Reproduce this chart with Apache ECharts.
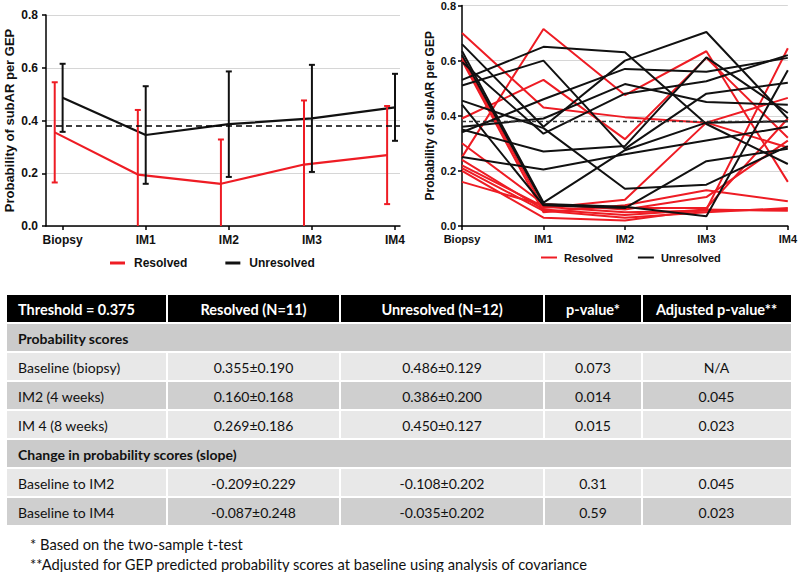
<!DOCTYPE html>
<html><head><meta charset="utf-8">
<script src="https://cdn.jsdelivr.net/npm/echarts@6/dist/echarts.min.js"></script>
<style>html,body{margin:0;padding:0;background:#fff}#c{width:800px;height:572px}</style>
</head><body><div id="c"></div>
<script>
// ---------------- data ----------------
const categories = ['Biopsy', 'IM1', 'IM2', 'IM3', 'IM4'];
const threshold = 0.375;
const yTicks = [0, 0.2, 0.4, 0.6, 0.8];

// left panel: group mean and SD
const resolvedMean = [0.355, 0.195, 0.160, 0.233, 0.269];
const resolvedSD = [0.190, 0.245, 0.168, 0.243, 0.186];
const unresolvedMean = [0.486, 0.345, 0.386, 0.408, 0.450];
const unresolvedSD = [0.129, 0.185, 0.200, 0.203, 0.127];

// right panel: individual patients
const resolvedPatients = [
  [0.25, 0.715, 0.475, 0.634, 0.16],
  [0.39, 0.53, 0.315, 0.61, 0.32],
  [0.70, 0.43, 0.395, 0.375, 0.465],
  [0.61, 0.065, 0.095, 0.375, 0.285],
  [0.60, 0.05, 0.075, 0.13, 0.09],
  [0.30, 0.08, 0.06, 0.105, 0.31],
  [0.24, 0.06, 0.04, 0.06, 0.645],
  [0.22, 0.07, 0.05, 0.055, 0.06],
  [0.21, 0.055, 0.03, 0.05, 0.065],
  [0.20, 0.03, 0.02, 0.06, 0.055],
  [0.16, 0.075, 0.065, 0.065, 0.39]
];
const unresolvedPatients = [
  [0.53, 0.65, 0.63, 0.37, 0.225],
  [0.51, 0.60, 0.28, 0.48, 0.52],
  [0.34, 0.46, 0.57, 0.56, 0.61],
  [0.36, 0.39, 0.515, 0.45, 0.44],
  [0.66, 0.36, 0.60, 0.704, 0.39],
  [0.595, 0.335, 0.48, 0.525, 0.62],
  [0.455, 0.355, 0.135, 0.15, 0.29],
  [0.35, 0.27, 0.29, 0.612, 0.41],
  [0.25, 0.205, 0.26, 0.31, 0.36],
  [0.635, 0.085, 0.275, 0.375, 0.38],
  [0.62, 0.08, 0.07, 0.035, 0.565],
  [0.44, 0.075, 0.065, 0.235, 0.28]
];

// table
const tableHeader = ['Threshold = 0.375', 'Resolved (N=11)', 'Unresolved (N=12)', 'p-value*', 'Adjusted p-value**'];
const section1Title = 'Probability scores';
const section1Rows = [
  ['Baseline (biopsy)', '0.355±0.190', '0.486±0.129', '0.073', 'N/A'],
  ['IM2 (4 weeks)', '0.160±0.168', '0.386±0.200', '0.014', '0.045'],
  ['IM 4 (8 weeks)', '0.269±0.186', '0.450±0.127', '0.015', '0.023']
];
const section2Title = 'Change in probability scores (slope)';
const section2Rows = [
  ['Baseline to IM2', '-0.209±0.229', '-0.108±0.202', '0.31', '0.045'],
  ['Baseline to IM4', '-0.087±0.248', '-0.035±0.202', '0.59', '0.023']
];
const footnotes = [
  '* Based on the two-sample t-test',
  '**Adjusted for GEP predicted probability scores at baseline using analysis of covariance'
];

// ---------------- styles ----------------
const FONT = '"Liberation Sans", Arial, sans-serif';
const TFONT = 'Lato, "Open Sans", sans-serif';
const RED = '#ee1c24';
const BLACK = '#111111';
const dodge = -0.095;

const chart = echarts.init(document.getElementById('c'), null, { renderer: 'svg' });

function errorBars(name, color, mean, sd, offset) {
  return {
    type: 'custom', name: name, xAxisIndex: 0, yAxisIndex: 0, z: 4,
    data: mean.map((m, i) => [i + offset, m - sd[i], m + sd[i]]),
    renderItem: function (params, api) {
      const x = api.value(0), lo = api.value(1), hi = api.value(2);
      const pLo = api.coord([x, Math.max(0, lo)]);
      const pHi = api.coord([x, hi]);
      const st = { stroke: color, lineWidth: 2 };
      const ch = [
        { type: 'line', shape: { x1: pLo[0], y1: pLo[1], x2: pHi[0], y2: pHi[1] }, style: st },
        { type: 'line', shape: { x1: pHi[0] - 3, y1: pHi[1], x2: pHi[0] + 3, y2: pHi[1] }, style: st }
      ];
      if (lo >= 0) ch.push({ type: 'line', shape: { x1: pLo[0] - 3, y1: pLo[1], x2: pLo[0] + 3, y2: pLo[1] }, style: st });
      return { type: 'group', children: ch };
    }
  };
}

const series = [
  {
    name: 'Resolved', type: 'line', xAxisIndex: 0, yAxisIndex: 0, symbol: 'none', z: 3,
    data: resolvedMean.map((m, i) => [i + dodge, m]),
    lineStyle: { color: RED, width: 2.2 }, itemStyle: { color: RED },
    markLine: { silent: true, symbol: ['none', 'none'], label: { show: false },
      lineStyle: { color: '#000', type: [6, 4], width: 1.5 }, data: [{ yAxis: threshold }] }
  },
  {
    name: 'Unresolved', type: 'line', xAxisIndex: 0, yAxisIndex: 0, symbol: 'none', z: 3,
    data: unresolvedMean.map((m, i) => [i, m]),
    lineStyle: { color: BLACK, width: 2.2 }, itemStyle: { color: BLACK }
  },
  errorBars('Resolved', RED, resolvedMean, resolvedSD, dodge),
  errorBars('Unresolved', BLACK, unresolvedMean, unresolvedSD, 0)
];

resolvedPatients.forEach((p, k) => {
  const s = {
    name: 'Resolved', type: 'line', xAxisIndex: 1, yAxisIndex: 1, symbol: 'none',
    data: p, lineStyle: { color: RED, width: 2 }, itemStyle: { color: RED }
  };
  if (k === 0) s.markLine = { silent: true, symbol: ['none', 'none'], label: { show: false },
    lineStyle: { color: '#333', type: [4, 3], width: 1.4 }, data: [{ yAxis: threshold }] };
  series.push(s);
});
unresolvedPatients.forEach(p => {
  series.push({
    name: 'Unresolved', type: 'line', xAxisIndex: 1, yAxisIndex: 1, symbol: 'none',
    data: p, lineStyle: { color: BLACK, width: 2 }, itemStyle: { color: BLACK }
  });
});

// ---------------- table graphic ----------------
const colEdges = [7, 167, 340, 544, 642, 791];
const tableTop = 295, rowH = 27, rowGap = 2;
const textX0 = 18;
const g = [];
function rect(x, y, w, h, fill) { g.push({ type: 'rect', silent: true, shape: { x: x, y: y, width: w, height: h }, style: { fill: fill } }); }
function txt(s, x, y, align, font, fill) {
  g.push({ type: 'text', silent: true, x: x, y: y,
    style: { text: s, font: font, fill: fill, align: align, textAlign: align, verticalAlign: 'middle', textVerticalAlign: 'middle' } });
}
function cellText(row, y, font, fill) {
  row.forEach((s, j) => {
    if (j === 0) txt(s, textX0, y, 'left', font, fill);
    else txt(s, (colEdges[j] + colEdges[j + 1]) / 2, y, 'center', font, fill);
  });
}
function separators(y) {
  for (let j = 1; j < colEdges.length - 1; j++) rect(colEdges[j] - 1, y, 2, rowH, '#ffffff');
}
let ty = tableTop;
rect(colEdges[0], ty, colEdges[5] - colEdges[0], rowH, '#000000');
separators(ty);
cellText(tableHeader, ty + rowH / 2 + 1, 'bold 14.5px ' + TFONT, '#ffffff');
ty += rowH + rowGap;
[[section1Title, section1Rows], [section2Title, section2Rows]].forEach(sec => {
  rect(colEdges[0], ty, colEdges[5] - colEdges[0], rowH, '#cbcbcb');
  txt(sec[0], textX0, ty + rowH / 2 + 1, 'left', 'bold 14px ' + TFONT, '#111');
  ty += rowH + rowGap;
  sec[1].forEach((row, k) => {
    rect(colEdges[0], ty, colEdges[5] - colEdges[0], rowH, k % 2 === 0 ? '#e8e8e8' : '#cfcfcf');
    separators(ty);
    cellText(row, ty + rowH / 2 + 1, '14px ' + TFONT, '#111');
    ty += rowH + rowGap;
  });
});
footnotes.forEach((f, i) => txt(f, 30, 544 + i * 19.5, 'left', '14.7px ' + TFONT, '#111'));

// ---------------- axes ----------------
const axisLineStyle = { show: true, onZero: false, lineStyle: { color: '#000', width: 1.5 } };
const tickStyle = { show: true, length: 4, lineStyle: { color: '#000', width: 1.5 } };
const splitStyle = { show: true, lineStyle: { color: '#d6d6d6', width: 1.2 } };

const option = {
  animation: false,
  backgroundColor: '#ffffff',
  grid: [
    { left: 46, top: 15, width: 354, height: 211 },
    { left: 462, top: 4, width: 329, height: 222 }
  ],
  legend: [
    { data: ['Resolved', 'Unresolved'], left: 110, top: 257, padding: 0, icon: 'rect', itemWidth: 15, itemHeight: 3, itemGap: 38,
      selectedMode: false, textStyle: { fontFamily: FONT, fontSize: 12, fontWeight: 'bold', color: '#111', padding: [0, 0, 0, 4] } },
    { data: ['Resolved', 'Unresolved'], left: 541, top: 252, padding: 0, icon: 'rect', itemWidth: 16, itemHeight: 2, itemGap: 25,
      selectedMode: false, textStyle: { fontFamily: FONT, fontSize: 11, fontWeight: 'bold', color: '#111', padding: [0, 0, 0, 2] } }
  ],
  xAxis: [
    { type: 'value', gridIndex: 0, min: -0.2, max: 4.06, splitLine: { show: false },
      axisLine: axisLineStyle, axisTick: Object.assign({ customValues: [0, 1, 2, 3, 4] }, tickStyle),
      axisLabel: { customValues: [0, 1, 2, 3, 4], formatter: v => categories[Math.round(v)], margin: 8,
        fontFamily: FONT, fontSize: 12, fontWeight: 'bold', color: '#111' } },
    { type: 'category', gridIndex: 1, data: categories, boundaryGap: false,
      axisLine: axisLineStyle, axisTick: Object.assign({ alignWithLabel: true }, tickStyle),
      axisLabel: { margin: 7, fontFamily: FONT, fontSize: 11, fontWeight: 'bold', color: '#111', interval: 0 } }
  ],
  yAxis: [
    { type: 'value', gridIndex: 0, min: 0, max: 0.8, interval: 0.2,
      name: 'Probability of subAR per GEP', nameLocation: 'middle', nameGap: 30,
      nameTextStyle: { fontFamily: FONT, fontSize: 13, fontWeight: 'bold', color: '#111' },
      axisLine: axisLineStyle, axisTick: tickStyle, splitLine: splitStyle,
      axisLabel: { formatter: v => v.toFixed(1), margin: 8, fontFamily: FONT, fontSize: 12, fontWeight: 'bold', color: '#111' } },
    { type: 'value', gridIndex: 1, min: 0, max: 0.8, interval: 0.2,
      name: 'Probability of subAR per GEP', nameLocation: 'middle', nameGap: 26,
      nameTextStyle: { fontFamily: FONT, fontSize: 12, fontWeight: 'bold', color: '#111' },
      axisLine: axisLineStyle, axisTick: tickStyle, splitLine: splitStyle,
      axisLabel: { formatter: v => v.toFixed(1), margin: 6, fontFamily: FONT, fontSize: 11, fontWeight: 'bold', color: '#111' } }
  ],
  graphic: { elements: g },
  series: series
};
chart.setOption(option);
</script>
</body></html>
